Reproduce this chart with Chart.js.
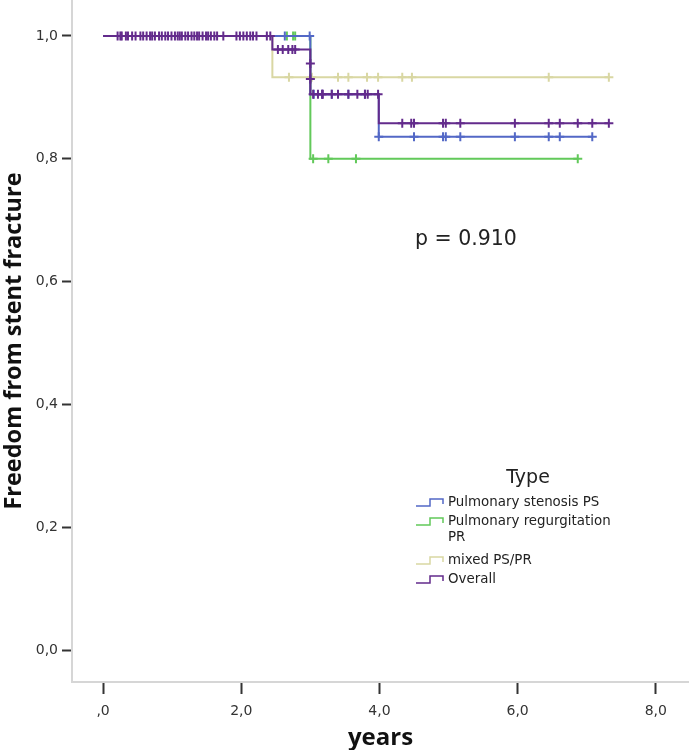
<!DOCTYPE html>
<html>
<head>
<meta charset="utf-8">
<script src="https://cdn.jsdelivr.net/npm/chart.js@4.4.1/dist/chart.umd.min.js"></script>
<style>
  body { margin: 0; background: #fff; }
  #wrap { width: 689px; height: 750px; }
</style>
</head>
<body>
<div id="wrap"><canvas id="kmChart" width="689" height="750"></canvas></div>
<script>
// Kaplan-Meier steps (time in years, cumulative survival)
const psTimes = [0, 3.0, 3.99, 7.09];
const psSurv = [1.0, 0.905, 0.836, 0.836];
const psCensor = [2.63, 2.99, 3.05, 3.17, 3.31, 3.55, 3.79, 3.99, 4.50, 4.92, 4.96, 5.17, 5.96, 6.45, 6.61, 7.08];

const prTimes = [0, 3.0, 6.87];
const prSurv = [1.0, 0.80, 0.80];
const prCensor = [2.66, 2.75, 2.78, 3.04, 3.26, 3.66, 6.87];

const mixTimes = [0, 2.45, 7.32];
const mixSurv = [1.0, 0.933, 0.933];
const mixCensor = [2.69, 3.02, 3.40, 3.55, 3.82, 3.98, 4.33, 4.47, 6.45, 7.32];

const allTimes = [0, 2.45, 3.0, 3.0, 3.0, 3.99, 7.32];
const allSurv = [1.0, 0.978, 0.955, 0.93, 0.905, 0.858, 0.858];
const allCensor = [
  0.21, 0.25, 0.27, 0.33, 0.36, 0.42, 0.47, 0.54, 0.58, 0.63, 0.68, 0.71, 0.75, 0.81, 0.85,
  0.90, 0.94, 0.99, 1.04, 1.08, 1.11, 1.14, 1.19, 1.23, 1.28, 1.32, 1.36, 1.39, 1.44, 1.49,
  1.52, 1.56, 1.61, 1.65, 1.74, 1.93, 1.98, 2.03, 2.08, 2.13, 2.17, 2.22, 2.37, 2.42,
  2.53, 2.60, 2.68, 2.74, 2.78,
  3.04, 3.11, 3.17, 3.18, 3.31, 3.40, 3.55, 3.68, 3.79, 3.83, 3.98,
  4.33, 4.46, 4.50, 4.92, 4.96, 5.17, 5.96, 6.45, 6.61, 6.87, 7.08, 7.32
];
// censored cases sitting on the vertical drop at 3.0 years
const allDropCensorT = [3.0, 3.0];
const allDropCensorS = [0.955, 0.93];

const groupLabels = ['Pulmonary stenosis PS', 'Pulmonary regurgitation\nPR', 'mixed PS/PR', 'Overall'];
const groupColors = ['#5368c6', '#62c95a', '#d9d7a3', '#632b8c'];

const xTicks = [0, 2, 4, 6, 8];
const yTicks = [0, 0.2, 0.4, 0.6, 0.8, 1.0];
const pText = 'p = 0.910';

const survAt = (times, surv, t) => {
  let s = surv[0];
  times.forEach((tt, i) => { if (tt <= t) s = surv[i]; });
  return s;
};

const stepData = (times, surv) => times.map((t, i) => ({ x: t, y: surv[i] }));
const censorData = (times, surv, cens) => cens.map(t => ({ x: t, y: survAt(times, surv, t) }));

const stepSet = (times, surv, color, order) => ({
  type: 'line',
  data: stepData(times, surv),
  borderColor: color,
  borderWidth: 2,
  stepped: true,
  pointRadius: 0,
  fill: false,
  order
});

const censorSet = (points, color, order) => ({
  type: 'scatter',
  data: points,
  showLine: false,
  pointStyle: 'cross',
  pointRadius: 4.5,
  pointHoverRadius: 4.5,
  borderColor: color,
  pointBorderWidth: 2,
  borderWidth: 2,
  order
});

const comma = v => v.toFixed(1).replace('.', ',');

// legend with step icons + p value, drawn on top
const extrasPlugin = {
  id: 'extras',
  afterDraw(chart) {
    const c = chart.ctx;
    c.save();
    c.fillStyle = '#222';
    c.font = '20.5px "DejaVu Sans"';
    c.textBaseline = 'middle';
    c.textAlign = 'left';
    c.fillText(pText, 415, 240);

    c.font = '19px "DejaVu Sans"';
    c.textAlign = 'center';
    c.fillText('Type', 528, 478);

    c.font = '13.4px "DejaVu Sans"';
    c.textAlign = 'left';
    const rowY = [503, 522, 561, 580];
    groupLabels.forEach((lab, i) => {
      const y = rowY[i];
      c.strokeStyle = groupColors[i];
      c.lineWidth = 1.5;
      c.beginPath();
      c.moveTo(416, y + 3);
      c.lineTo(430, y + 3);
      c.lineTo(430, y - 4);
      c.lineTo(443, y - 4);
      c.lineTo(443, y + 1);
      c.stroke();
      c.fillStyle = '#222';
      lab.split('\n').forEach((ln, j) => c.fillText(ln, 448, y + j * 16));
    });
    c.restore();
  }
};

const ctx = document.getElementById('kmChart').getContext('2d');

new Chart(ctx, {
  data: {
    datasets: [
      stepSet(allTimes, allSurv, groupColors[3], 0),
      censorSet(censorData(allTimes, allSurv, allCensor)
        .concat(allDropCensorT.map((t, i) => ({ x: t, y: allDropCensorS[i] }))), groupColors[3], 0),
      stepSet(psTimes, psSurv, groupColors[0], 1),
      censorSet(censorData(psTimes, psSurv, psCensor), groupColors[0], 1),
      stepSet(prTimes, prSurv, groupColors[1], 2),
      censorSet(censorData(prTimes, prSurv, prCensor), groupColors[1], 2),
      stepSet(mixTimes, mixSurv, groupColors[2], 3),
      censorSet(censorData(mixTimes, mixSurv, mixCensor), groupColors[2], 3)
    ]
  },
  options: {
    responsive: false,
    animation: false,
    devicePixelRatio: 1,
    layout: { padding: 0, autoPadding: false },
    plugins: { legend: { display: false }, tooltip: { enabled: false } },
    scales: {
      x: {
        type: 'linear',
        min: -0.45,
        max: 8.48,
        afterBuildTicks: s => { s.ticks = xTicks.map(v => ({ value: v })); },
        afterFit: s => { s.height = 68; s.paddingLeft = 0; s.paddingRight = 0; },
        grid: { drawOnChartArea: false, tickLength: 12, tickColor: '#333', tickWidth: 2 },
        border: { color: '#d6d6d6', width: 2 },
        ticks: {
          padding: 9,
          color: '#333',
          font: { family: 'DejaVu Sans', size: 14 },
          callback: v => v === 0 ? ',0' : comma(v)
        },
        title: {
          display: true,
          text: 'years',
          color: '#111',
          font: { family: 'Open Sans', size: 24, weight: 'bold', lineHeight: 1 },
          padding: 0
        }
      },
      y: {
        type: 'linear',
        min: -0.052,
        max: 1.0586,
        afterBuildTicks: s => { s.ticks = yTicks.map(v => ({ value: v })); },
        afterFit: s => { s.width = 72; s.paddingTop = 0; s.paddingBottom = 0; },
        grid: { drawOnChartArea: false, tickLength: 10, tickColor: '#333', tickWidth: 2 },
        border: { color: '#d6d6d6', width: 2 },
        ticks: {
          padding: 4,
          color: '#333',
          font: { family: 'DejaVu Sans', size: 14 },
          callback: v => comma(v)
        },
        title: {
          display: true,
          text: 'Freedom from stent fracture',
          color: '#111',
          font: { family: 'Open Sans', size: 23.5, weight: 'bold', lineHeight: 1 },
          padding: { top: 3, bottom: 0 }
        }
      }
    }
  },
  plugins: [extrasPlugin]
});
</script>
</body>
</html>
